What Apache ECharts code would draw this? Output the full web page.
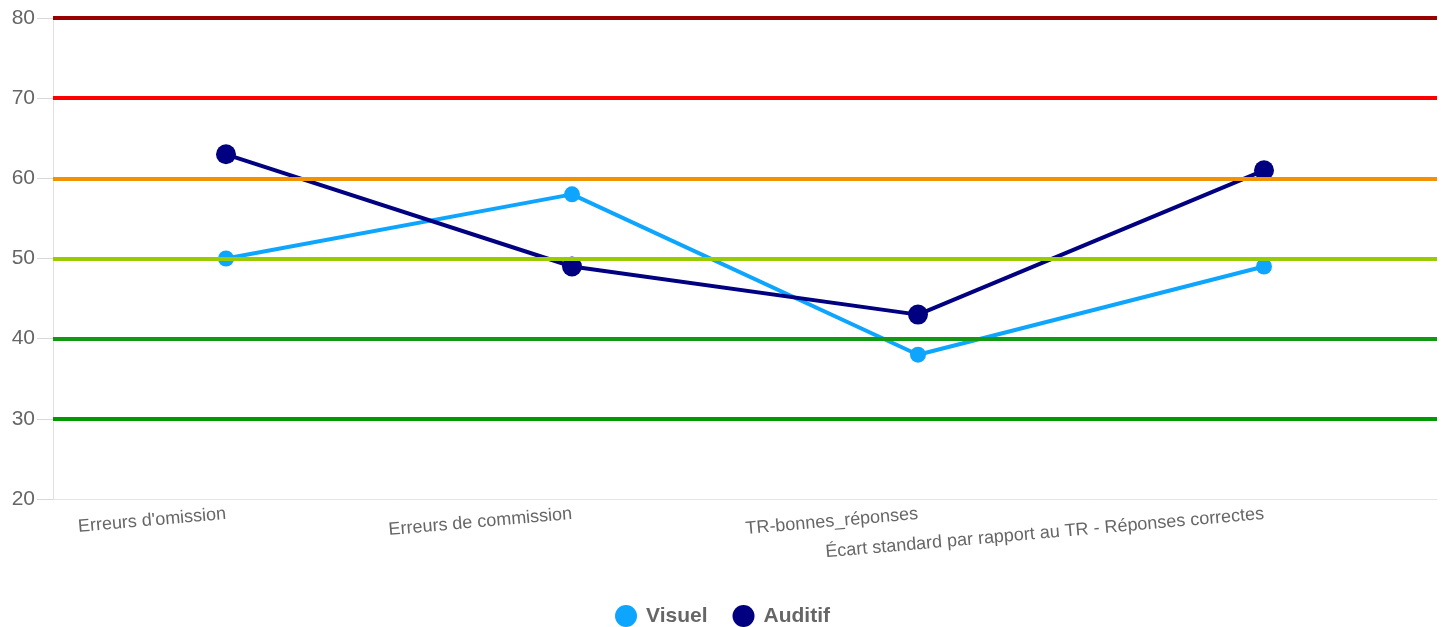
<!DOCTYPE html>
<html>
<head>
<meta charset="utf-8">
<script src="https://cdn.jsdelivr.net/npm/echarts@6/dist/echarts.min.js"></script>
<style>
html,body{margin:0;padding:0;background:#fff;}
#chart{width:1445px;height:627px;}
</style>
</head>
<body>
<div id="chart"></div>
<script>
const categories = ["Erreurs d'omission", "Erreurs de commission", "TR-bonnes_réponses", "Écart standard par rapport au TR - Réponses correctes"];
const visuel = [50, 58, 38, 49];
const auditif = [63, 49, 43, 61];
const thresholdValues = [30, 40, 50, 60, 70, 80];
const thresholdColors = ["#009900", "#119911", "#99cc00", "#f39200", "#ff0000", "#990000"];
const yTicks = [20, 30, 40, 50, 60, 70, 80];

const chart = echarts.init(document.getElementById('chart'), null, {renderer: 'canvas'});
const font = "Liberation Sans, Arial, sans-serif";

chart.setOption({
  animation: false,
  grid: {left: 53, right: 8, top: 18, bottom: 128, containLabel: false},
  legend: {
    left: 'center', top: 600,
    icon: 'circle', itemWidth: 22, itemHeight: 22, itemGap: 25,
    textStyle: {fontFamily: font, fontSize: 21, fontWeight: 'bold', color: '#666', padding: [0, 0, 0, 4]},
    data: ['Visuel', 'Auditif']
  },
  xAxis: {
    type: 'category',
    boundaryGap: true,
    data: categories.map((c, i) => i === 3 ? {value: c, textStyle: {padding: [40, 0, 0, 0]}} : c),
    axisLine: {show: true, lineStyle: {color: '#e5e5e5', width: 1}},
    axisTick: {show: false},
    axisLabel: {rotate: 5, interval: 0, margin: 15, fontFamily: font, fontSize: 18, color: '#666'},
    splitLine: {show: false}
  },
  yAxis: {
    type: 'value',
    min: yTicks[0], max: yTicks[yTicks.length - 1], interval: 10,
    axisLine: {show: true, lineStyle: {color: '#e0e0e0', width: 1}},
    axisTick: {show: true, length: 16, lineStyle: {color: '#d8d8d8', width: 1}},
    axisLabel: {margin: 18, fontFamily: font, fontSize: 21, color: '#666'},
    splitLine: {show: false}
  },
  series: [
    {
      name: 'thresholds', type: 'line', data: [], silent: true,
      markLine: {
        silent: true, symbol: ['none', 'none'], label: {show: false},
        data: thresholdValues.map((v, i) => ({yAxis: v, lineStyle: {color: thresholdColors[i], width: 4, type: 'solid'}}))
      },
      z: 1
    },
    {
      name: 'Visuel', type: 'line', data: visuel,
      symbol: 'circle', symbolSize: 16,
      itemStyle: {color: '#0ea5ff'},
      lineStyle: {color: '#0ea5ff', width: 4},
      z: 3
    },
    {
      name: 'Auditif', type: 'line', data: auditif,
      symbol: 'circle', symbolSize: 20,
      itemStyle: {color: '#000080'},
      lineStyle: {color: '#000080', width: 4},
      z: 4
    }
  ]
});
</script>
</body>
</html>
